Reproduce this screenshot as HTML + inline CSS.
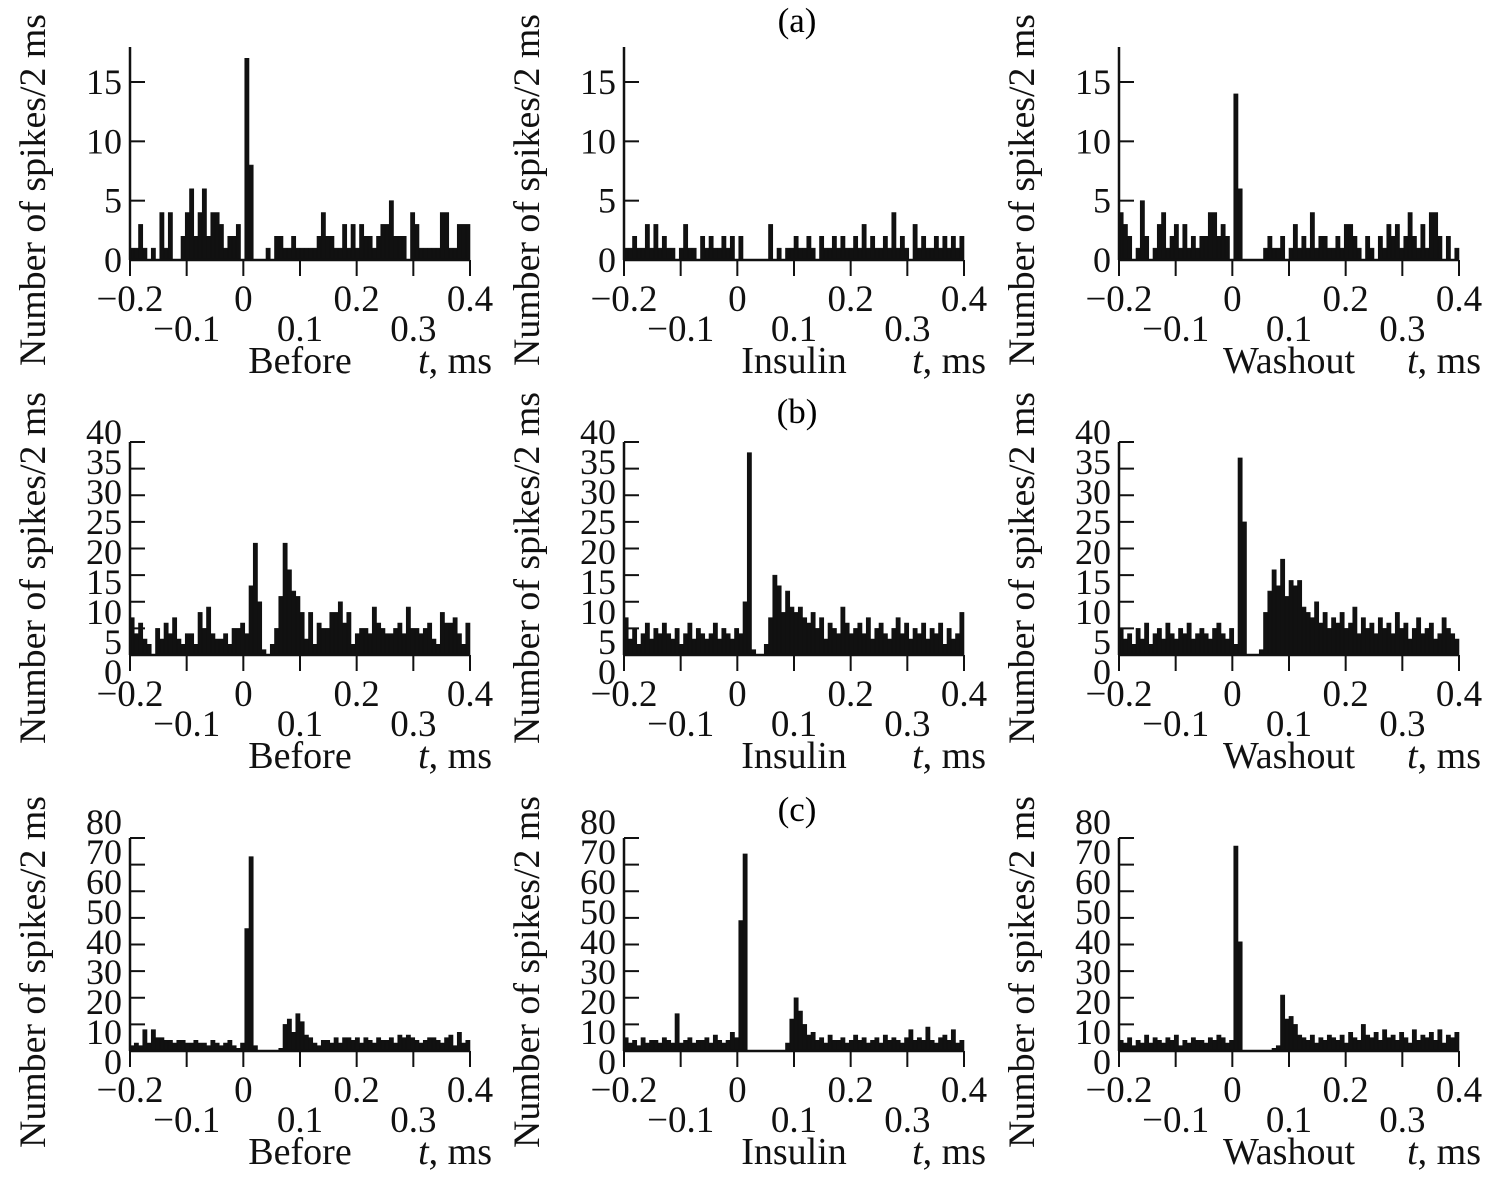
<!DOCTYPE html>
<html><head><meta charset="utf-8">
<style>
html,body{margin:0;padding:0;background:#fff;}
svg{display:block;font-family:"Liberation Serif",serif;}
</style></head>
<body>
<svg id="fig" width="1485" height="1179" viewBox="0 0 1485 1179" xmlns="http://www.w3.org/2000/svg">
<text x="797" y="32" font-size="35" text-anchor="middle">(a)</text>
<text x="797" y="423" font-size="35" text-anchor="middle">(b)</text>
<text x="797" y="821" font-size="35" text-anchor="middle">(c)</text>
</svg>
<script>
const xTickValues = [-0.2,-0.1,0,0.1,0.2,0.3,0.4];
const xTickLabels = ["\u22120.2","\u22120.1","0","0.1","0.2","0.3","0.4"];
const conditions = ["Before","Insulin","Washout"];
const yTicksA = [0,5,10,15];
const yTicksB = [0,5,10,15,20,25,30,35,40];
const yTicksC = [0,10,20,30,40,50,60,70,80];

const a1 = [1,1,3,1,0,1,0,4,1,4, 0,0,2,4,6,2,4,6,2,4, 4,3,1,2,2,3,0,17,8,0, 0,0,1,0,2,2,1,1,2,1, 1,1,1,1,2,4,2,2,1,1, 3,1,3,1,3,2,2,1,2,3, 3,5,2,2,2,0,4,3,1,1, 1,1,1,4,4,1,1,3,3,3];
const a2 = [1,1,2,1,1,3,1,3,1,2, 1,1,0,1,3,1,1,0,2,1, 2,1,1,2,1,2,0,2,0,0, 0,0,0,0,3,0,1,0,1,1, 2,1,1,2,1,0,2,1,1,2, 1,2,1,1,2,1,3,1,2,1, 1,2,1,4,1,2,1,0,3,1, 2,1,1,2,1,2,1,2,1,2];
const a3 = [4,3,2,0,1,5,2,0,1,3, 4,1,2,3,1,3,1,2,1,2, 2,4,4,2,3,2,0,14,6,0, 0,0,0,0,1,2,1,1,2,0, 1,3,1,2,1,4,1,2,2,1, 1,2,1,3,3,2,1,0,2,1, 0,2,1,3,2,3,1,2,4,2, 1,3,1,4,4,2,0,2,0,1];
const b1 = [7,4,6,3,2,0,5,3,6,4, 7,3,2,4,4,2,8,5,9,4, 3,3,4,2,5,5,6,4,13,21, 10,1,0,2,5,11,21,16,12,11, 8,3,8,2,6,5,5,8,8,10, 6,8,2,4,5,5,4,9,6,5, 4,4,5,6,4,9,5,5,4,5, 6,3,2,8,6,6,7,4,2,6];
const b2 = [7,3,5,2,4,6,3,5,4,6, 4,3,5,2,4,6,3,5,4,3, 4,6,3,5,4,3,5,4,10,38, 1,0,0,2,7,15,13,8,12,9, 8,9,7,6,8,5,7,3,6,5, 4,9,6,4,5,6,4,7,3,5, 6,4,3,5,7,4,6,3,5,4, 6,3,5,4,6,2,5,3,4,8];
const b3 = [5,3,4,2,5,3,6,2,4,5, 3,6,4,3,5,4,6,3,4,5, 4,3,5,6,4,3,5,2,37,25, 0,0,0,1,8,12,16,13,18,11, 14,13,14,9,8,7,10,6,8,5, 7,6,8,5,6,9,4,7,5,6, 4,7,5,6,4,8,5,6,3,5, 7,4,5,6,3,4,7,5,4,3];
const c1 = [2,3,2,8,3,8,5,5,4,4, 3,4,4,3,3,4,3,3,2,4, 3,2,3,4,2,1,3,46,73,2, 0,0,0,0,0,1,10,12,7,14, 11,6,5,3,2,4,4,3,5,3, 5,5,4,5,3,5,4,3,5,4, 4,5,3,6,5,6,5,4,3,4, 5,5,4,3,5,6,2,7,3,4];
const c2 = [5,3,4,2,5,3,4,4,3,5, 4,3,14,3,4,5,3,4,4,5, 3,6,4,3,4,7,5,49,74,0, 0,0,0,0,0,0,0,0,3,12, 20,15,10,6,7,4,5,3,6,4, 4,5,3,4,6,4,5,3,4,5, 3,6,4,5,4,3,5,8,4,5, 4,9,4,3,5,6,4,8,3,4];
const c3 = [4,3,5,2,4,3,6,3,5,4, 3,5,4,6,2,4,3,5,4,4, 3,5,4,6,5,3,4,77,41,0, 0,0,0,0,0,0,1,2,21,12, 13,10,6,5,4,6,3,5,4,6, 5,4,6,3,7,5,4,10,6,5, 7,4,8,5,6,4,7,5,3,8, 4,6,5,7,4,8,3,6,5,7];

const NS = "http://www.w3.org/2000/svg";
const svg = document.getElementById("fig");
const colX = [130, 624, 1119];
const W = 340;
const rows = [
  {key:"a", base:260, top:47, ticks:yTicksA, maxV:15, maxY:82, labelTop:null, series:[a1,a2,a3]},
  {key:"b", base:655, top:442, ticks:yTicksB, maxV:40, maxY:442, labelTop:432, series:[b1,b2,b3]},
  {key:"c", base:1051, top:838, ticks:yTicksC, maxV:80, maxY:838, labelTop:822, series:[c1,c2,c3]}
];
const titleCY = [190, 568, 972];

function mk(tag, attrs, parent){
  const e = document.createElementNS(NS, tag);
  for (const k in attrs) e.setAttribute(k, attrs[k]);
  (parent||svg).appendChild(e);
  return e;
}

rows.forEach((r, ri) => {
  const yScale = v => r.base - v/r.maxV*(r.base - r.maxY);
  colX.forEach((x0, ci) => {
    const xScale = t => x0 + (t + 0.2)/0.6*W;
    const g = mk("g", {});
    
    
    const data = r.series[ci];
    const n = data.length;
    const bw = W / n;
    let d = "";
    data.forEach((v, i) => {
      if (v <= 0) return;
      const bx = x0 + i*bw, by = yScale(v);
      d += "M" + bx.toFixed(2) + " " + r.base + "V" + by.toFixed(2) + "H" + (bx+bw).toFixed(2) + "V" + r.base + "Z";
    });
    const bars = mk("path", {d:d, fill:"#111", stroke:"#111", "stroke-width":"0.6"}, g);
    
    
    const ya = mk("line", {x1:x0, y1:r.top, x2:x0, y2:r.base, stroke:"#111", "stroke-width":"2.5"}, g);
    
    
    const xa = mk("line", {x1:x0, y1:r.base, x2:x0+W, y2:r.base, stroke:"#111", "stroke-width":"2.5"}, g);
    
    
    r.ticks.forEach((v, i) => {
      const ty = yScale(v);
      const tk = mk("line", {x1:x0, y1:ty, x2:x0+15, y2:ty, stroke:"#111", "stroke-width":"2"}, g);
      
      
      let ly;
      if (r.labelTop === null) ly = ty;
      else ly = r.labelTop + (r.ticks.length - 1 - i)*30;
      const lb = mk("text", {x:x0-8, y:ly+12, "font-size":"36", "text-anchor":"end", fill:"#111"}, g);
      lb.textContent = String(v);
      
      
    });
    xTickValues.forEach((t, i) => {
      const tx = xScale(t);
      const tk = mk("line", {x1:tx, y1:r.base, x2:tx, y2:r.base+16, stroke:"#111", "stroke-width":"2"}, g);
      
      
      const ly = (i % 2 === 0) ? r.base + 51 : r.base + 81;
      const lb = mk("text", {x:tx, y:ly, "font-size":"37", "text-anchor":"middle", fill:"#111"}, g);
      lb.textContent = xTickLabels[i];
      
      
    });
    const cond = mk("text", {x:x0+170, y:r.base+113, "font-size":"38", "text-anchor":"middle", fill:"#111"}, g);
    cond.textContent = conditions[ci];
    
    
    const xt = mk("text", {x:x0+362, y:r.base+113, "font-size":"38", "text-anchor":"end", fill:"#111"}, g);
    xt.innerHTML = '<tspan font-style="italic">t</tspan>, ms';
    
    
    const cx = x0 - 98, cy = titleCY[ri];
    const yt = mk("text", {x:cx, y:cy, "font-size":"37", "text-anchor":"middle", fill:"#111",
      transform:"rotate(-90 " + cx + " " + cy + ")", textLength:"352", lengthAdjust:"spacingAndGlyphs", dy:"13"}, g);
    yt.textContent = "Number of spikes/2 ms";
    
    
  });
});
</script>
</body></html>
